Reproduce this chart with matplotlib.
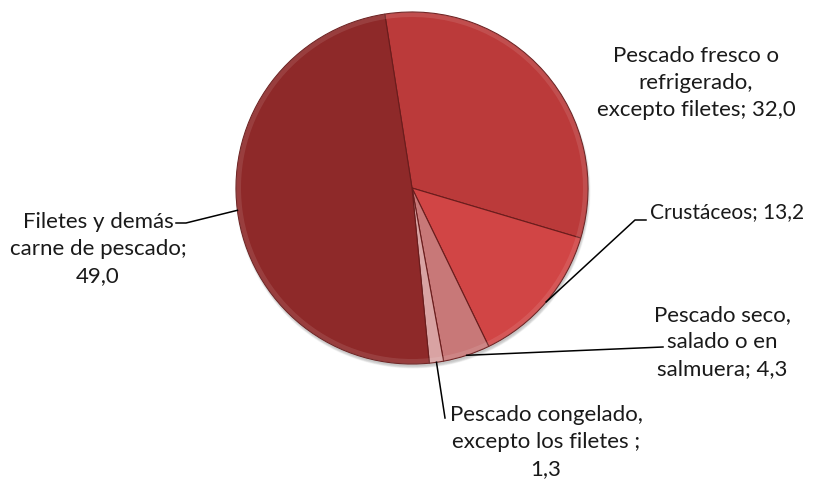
import numpy as np
import matplotlib.pyplot as plt
from matplotlib.patches import Wedge, Circle

# datos
categorias = ['Pescado fresco o\nrefrigerado,\nexcepto filetes', 'Crustáceos',
              'Pescado seco,\nsalado o en\nsalmuera', 'Pescado congelado,\nexcepto los filetes ',
              'Filetes y demás\ncarne de pescado']
valores = [32.0, 13.2, 4.3, 1.3, 49.0]
separadores = [' ', ' ', ' ', '\n', '\n']
colores = ['#BB3A3A', '#D14545', '#C87878', '#D9A3A3', '#8E2929']

plt.rcParams['font.family'] = ['Lato', 'DejaVu Sans']

fig = plt.figure(figsize=(8.14, 4.8), dpi=100)
ax = fig.add_axes([0, 0, 1, 1])

H = 480
cx, cy, r = 412, H - 188, 176

# sombra suave debajo de la torta
for k in range(8):
    ax.add_patch(Circle((cx + 1, cy - 3), r + 1 - k * 0.4, color='#000000', alpha=0.025, zorder=0))

wedges, _ = ax.pie(valores, colors=colores, startangle=98.9, counterclock=False,
                   center=(cx, cy), radius=r, frame=True,
                   wedgeprops=dict(edgecolor='#6a1c1c', linewidth=0.8))
ax.set_xlim(0, 814)
ax.set_ylim(0, 480)
ax.axis('off')

# brillo en el borde para simular bisel
for w in wedges:
    ax.add_patch(Wedge((cx, cy), r, w.theta1, w.theta2, width=5,
                       facecolor='white', alpha=0.10, edgecolor='none'))

etiquetas = [c + ';' + s + f"{v:.1f}".replace('.', ',')
             for c, s, v in zip(categorias, separadores, valores)]

# posiciones de etiquetas (px, y hacia abajo) y codos de las guías
pos_texto = [(696, 83, 'center'), (650, 212, 'left'), (722, 342, 'center'),
             (546, 442, 'center'), (98, 249, 'center')]
tamanos = [16, 15, 16, 16, 16]
codos = [None, [(635, 220), (646, 220)], [(663, 347)], [(445, 418)],
         [(186, 223), (176, 223)]]

for w, lab, (tx, ty, ha), fs, codo in zip(wedges, etiquetas, pos_texto, tamanos, codos):
    ax.text(tx, H - ty, lab, ha=ha, va='center', fontsize=fs, color='#1a1a1a',
            linespacing=1.45, multialignment='center')
    if codo is None:
        continue
    ang = np.deg2rad((w.theta1 + w.theta2) / 2)
    xs = [cx + r * np.cos(ang)] + [p[0] for p in codo]
    ys = [cy + r * np.sin(ang)] + [H - p[1] for p in codo]
    ax.plot(xs, ys, color='black', lw=1.1, zorder=5)

fig.savefig('out.png', dpi=100)
